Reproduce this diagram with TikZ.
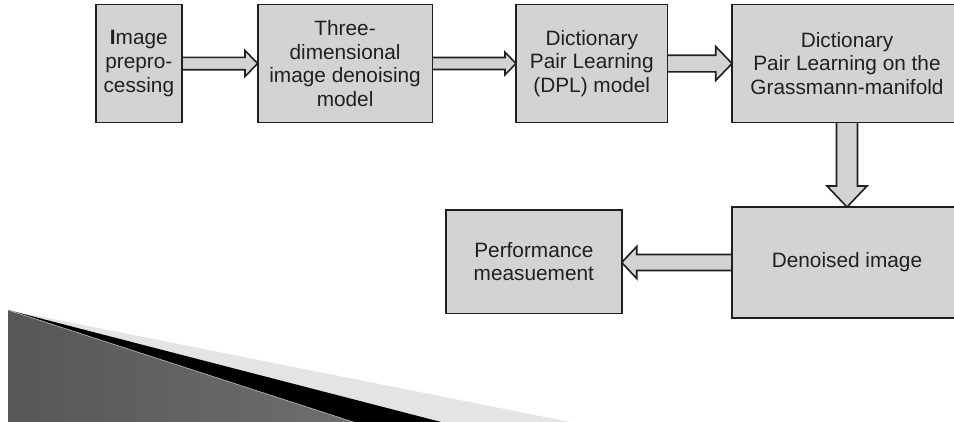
\documentclass[tikz,border=0pt]{standalone}
\usepackage{fontspec}
\setmainfont{Liberation Sans}
\usetikzlibrary{calc}
\pgfdeclarelayer{background}
\pgfsetlayers{background,main}
\definecolor{boxfill}{HTML}{D1D3D4}
\definecolor{linecol}{HTML}{231F20}
\definecolor{lightband}{HTML}{E4E4E4}
\tikzset{
  box/.style={draw=linecol, fill=boxfill, line width=1.6bp, inner sep=0pt, outer sep=0pt,
    align=center, text=linecol, font=\fontsize{20.8bp}{23.8bp}\selectfont},
  boxtext/.style={inner sep=0pt, align=center, text=linecol, font=\fontsize{20.8bp}{23.8bp}\selectfont},
  blockarrow/.style={draw=linecol, fill=boxfill, line width=1.6bp, line join=miter}
}
\begin{document}
\begin{tikzpicture}[x=1bp,y=-1bp]
\useasboundingbox (0,0) rectangle (954,421);
\begin{pgfonlayer}{background}
  \fill[white] (-10,-10) rectangle (970,431);
  % decorative wedge
  \fill[lightband] (8,310) -- (615,431) -- (8,431) -- cycle;
  \fill[black] (8,310) -- (476,431) -- (8,431) -- cycle;
  \shade[left color=black!66, middle color=black!38, right color=black!56]
    (8,310) -- (381,431) -- (8,431) -- cycle;
  \draw[white!75!black, line width=0.6bp] (8,310) -- (381,431);
\end{pgfonlayer}
\begin{scope}
\clip (-10,-10) rectangle (970,431);
\node[box, minimum width=85.7bp, minimum height=118bp] (b1) at (138.85,63.5) {\textbf{I}mage\\prepro-\\cessing};
\node[box, minimum width=174.8bp, minimum height=118bp] (b2) at (345.1,63.5) {Three-\\dimensional\\image denoising\\model};
\node[box, minimum width=151.5bp, minimum height=118bp] (b3) at (591.75,63.5) {Dictionary\\Pair Learning\\(DPL) model};
\node[box, minimum width=280bp, minimum height=118bp] (b4) at (872,63.5) {};
\node[box, minimum width=280bp, minimum height=111bp] (b5) at (872,262.5) {};
\node[box, minimum width=175.7bp, minimum height=103.3bp] (b6) at (533.85,261.65) {Performance\\measuement};
\end{scope}
\node[boxtext] (b4t) at (847,63.5) {Dictionary\\Pair Learning on the\\Grassmann-manifold};
\node[boxtext] (b5t) at (847,262.5) {Denoised image};
\begin{pgfonlayer}{background}
  % b1 -> b2
  \filldraw[blockarrow] ($(b1.east)+(0,-6.2)$) -- ($(b2.west)+(-12.7,-6.2)$) -- ($(b2.west)+(-12.7,-13)$)
    -- (b2.west) -- ($(b2.west)+(-12.7,13)$) -- ($(b2.west)+(-12.7,6.2)$) -- ($(b1.east)+(0,6.2)$);
  % b2 -> b3
  \filldraw[blockarrow] ($(b2.east)+(0,-6)$) -- ($(b3.west)+(-11,-6)$) -- ($(b3.west)+(-11,-11.3)$)
    -- (b3.west) -- ($(b3.west)+(-11,11.3)$) -- ($(b3.west)+(-11,6)$) -- ($(b2.east)+(0,6)$);
  % b3 -> b4
  \filldraw[blockarrow] ($(b3.east)+(0,-8.3)$) -- ($(b4.west)+(-16.3,-8.3)$) -- ($(b4.west)+(-16.3,-17)$)
    -- (b4.west) -- ($(b4.west)+(-16.3,17)$) -- ($(b4.west)+(-16.3,8.3)$) -- ($(b3.east)+(0,8.3)$);
  % b4 -> b5
  \coordinate (s4) at (b4t |- b4.south);
  \coordinate (n5) at (b4t |- b5.north);
  \filldraw[blockarrow] ($(s4)+(-10.5,0)$) -- ($(n5)+(-10.5,-21)$) -- ($(n5)+(-20,-21)$)
    -- (n5) -- ($(n5)+(20,-21)$) -- ($(n5)+(10.5,-21)$) -- ($(s4)+(10.5,0)$);
  % b5 -> b6
  \coordinate (t6) at (b6.east |- b5.west);
  \filldraw[blockarrow] ($(b5.west)+(0,-8)$) -- ($(t6)+(15,-8)$) -- ($(t6)+(15,-16)$)
    -- (t6) -- ($(t6)+(15,16)$) -- ($(t6)+(15,8)$) -- ($(b5.west)+(0,8)$);
\end{pgfonlayer}
\end{tikzpicture}
\end{document}
